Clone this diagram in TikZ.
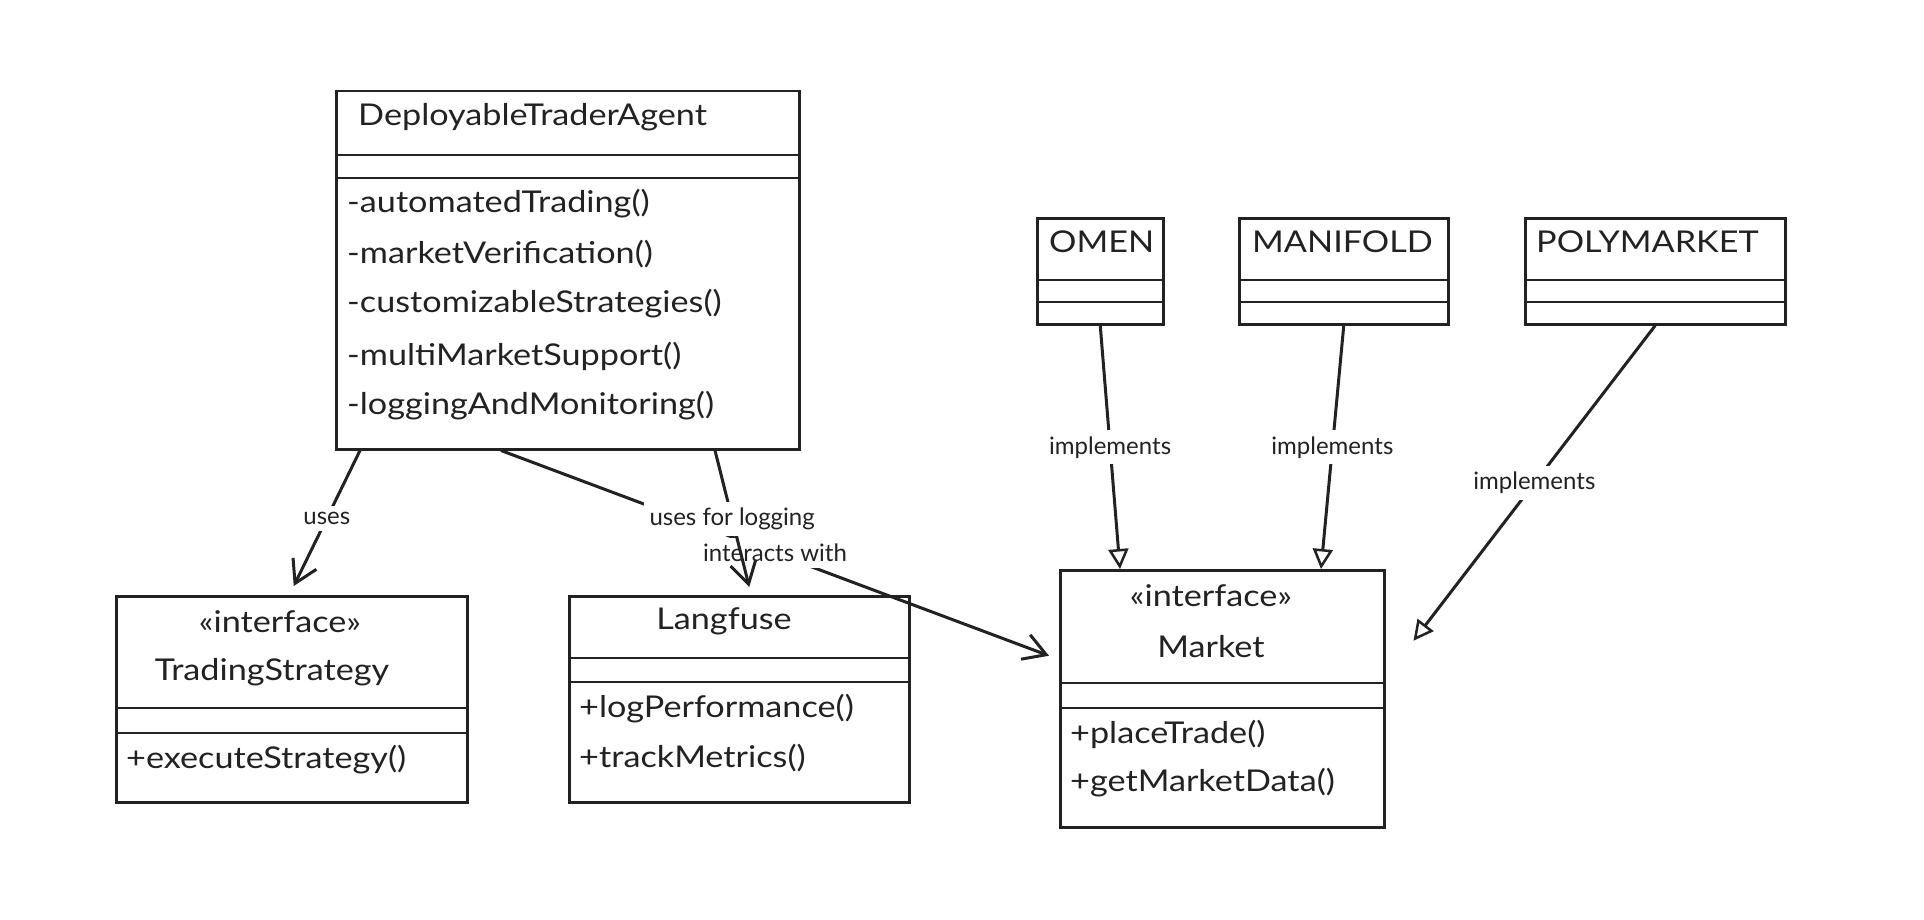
\documentclass[tikz,border=0pt]{standalone}
\usepackage{fontspec}
\setmainfont{Lato}
\newfontfamily\handfont[FakeStretch=1.14]{Lato}
\usetikzlibrary{arrows.meta}
\definecolor{ink}{HTML}{222222}
\begin{document}
\begin{tikzpicture}[x=1pt,y=-1pt,
  box/.style={draw=ink, line width=2.5pt, anchor=north west, inner sep=0pt},
  divider/.style={line width=2pt, draw=ink},
  txt/.style={anchor=west, font=\handfont\fontsize{30}{34}\selectfont, inner sep=0pt, text=ink},
  ctxt/.style={anchor=center, font=\handfont\fontsize{30}{34}\selectfont, inner sep=0pt, text=ink},
  lbl/.style={fill=white, font=\fontsize{24}{27}\selectfont, inner sep=6pt, text=ink},
  assoc/.style={line width=3pt, draw=ink, -{Straight Barb[length=22pt,width=26pt,line width=3pt]}},
  impl/.style={line width=3pt, draw=ink, -{Triangle[open,fill=white,length=20pt,width=20pt,line width=2.5pt]}}
]
\useasboundingbox[fill=white] (0,0) rectangle (1924,920);

% DeployableTraderAgent
\node[box, minimum width=463pt, minimum height=358pt] (dta) at (335,90) {};
\draw[divider] (335,155) -- (798,155);
\draw[divider] (335,178) -- (798,178);
\node[txt] (dtat) at (358,117) {DeployableTraderAgent};
\node[txt] (dm1) at (347,204) {-automatedTrading()};
\node[txt] (dm2) at (347,254) {-marketVerification()};
\node[txt] (dm3) at (347,304) {-customizableStrategies()};
\node[txt] (dm4) at (347,356) {-multiMarketSupport()};
\node[txt] (dm5) at (347,406) {-loggingAndMonitoring()};

% TradingStrategy
\node[box, minimum width=351pt, minimum height=206pt] (ts) at (115,595) {};
\draw[divider] (115,708) -- (466,708);
\draw[divider] (115,733) -- (466,733);
\node[ctxt] (tss) at (280,622) {«interface»};
\node[ctxt] (tst) at (272,672) {TradingStrategy};
\node[txt] (tsm1) at (126,760) {+executeStrategy()};

% Langfuse
\node[box, minimum width=340pt, minimum height=206pt] (lf) at (568,595) {};
\draw[divider] (568,658) -- (908,658);
\draw[divider] (568,682) -- (908,682);
\node[ctxt] (lft) at (724,621) {Langfuse};
\node[txt] (lfm1) at (579,709) {+logPerformance()};
\node[txt] (lfm2) at (579,758) {+trackMetrics()};

% Market
\node[box, minimum width=324pt, minimum height=257pt] (mk) at (1059,569) {};
\draw[divider] (1059,683) -- (1383,683);
\draw[divider] (1059,708) -- (1383,708);
\node[ctxt] (mks) at (1211,596) {«interface»};
\node[ctxt] (mkt) at (1211,647) {Market};
\node[txt] (mkm1) at (1070,734) {+placeTrade()};
\node[txt] (mkm2) at (1070,783) {+getMarketData()};

% OMEN
\node[box, minimum width=126pt, minimum height=106pt] (om) at (1036,217) {};
\draw[divider] (1036,280) -- (1162,280);
\draw[divider] (1036,302) -- (1162,302);
\node[txt] (omt) at (1049,242) {OMEN};

% MANIFOLD
\node[box, minimum width=209pt, minimum height=106pt] (mf) at (1238,217) {};
\draw[divider] (1238,280) -- (1447,280);
\draw[divider] (1238,302) -- (1447,302);
\node[txt] (mft) at (1252,242) {MANIFOLD};

% POLYMARKET
\node[box, minimum width=260pt, minimum height=106pt] (pm) at (1524,217) {};
\draw[divider] (1524,280) -- (1784,280);
\draw[divider] (1524,302) -- (1784,302);
\node[txt] (pmt) at (1536,242) {POLYMARKET};

% connectors
\draw[assoc] ([xshift=25pt]dta.south west) -- node[lbl] {uses} ([xshift=2pt,yshift=9pt]ts.north);
\draw[assoc] ([xshift=166pt]dta.south west) -- node[lbl] {interacts with} ([xshift=-10pt,yshift=43pt]mk.west);
\draw[assoc] ([xshift=380pt]dta.south west) -- node[lbl] {uses for logging} ([xshift=10pt,yshift=8pt]lf.north);

\draw[impl] (om.south) -- node[lbl] {implements} ([xshift=61pt]mk.north west);
\draw[impl] (mf.south) -- node[lbl] {implements} ([xshift=262pt]mk.north west);
\draw[impl] (pm.south) -- node[lbl] {implements} ([xshift=28pt,yshift=58pt]mk.east);
\end{tikzpicture}
\end{document}
